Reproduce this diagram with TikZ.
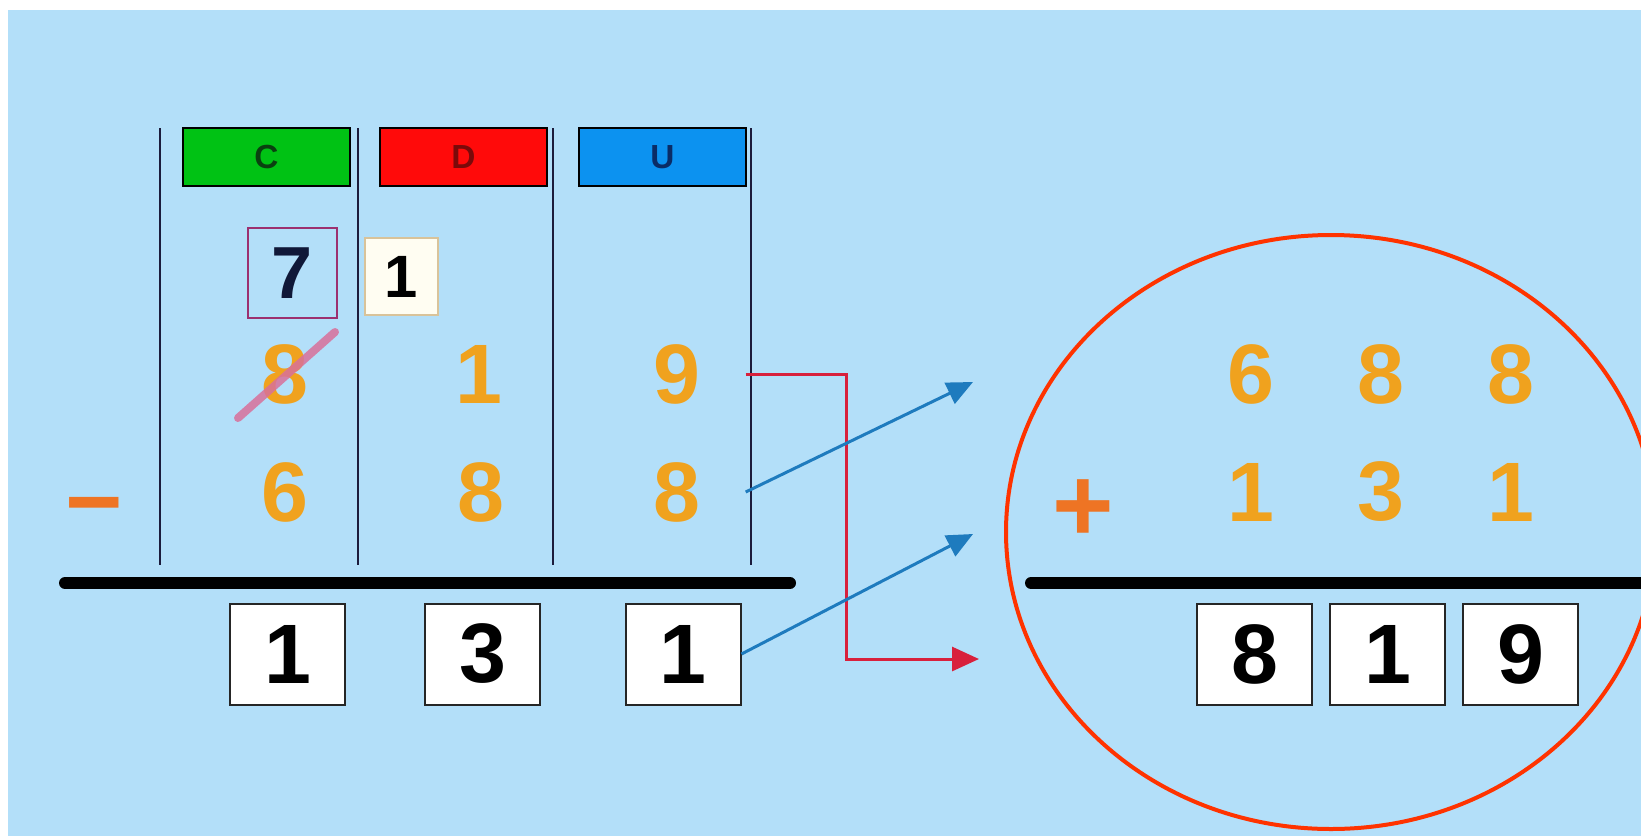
\documentclass[tikz,border=0pt]{standalone}
\usepackage{fontspec}
\setmainfont{Liberation Sans}
\usepackage{xcolor}
\usetikzlibrary{arrows.meta, positioning, calc}

\definecolor{bgblue}{HTML}{B3DFF9}
\definecolor{digitorange}{HTML}{F0A21E}
\definecolor{signorange}{HTML}{EE7424}
\definecolor{hdgreen}{HTML}{00C214}
\definecolor{hdgreentext}{HTML}{0A4010}
\definecolor{hdred}{HTML}{FF0A0A}
\definecolor{hdredtext}{HTML}{7A0A0A}
\definecolor{hdblue}{HTML}{0C92F0}
\definecolor{hdbluetext}{HTML}{0A2C66}
\definecolor{linenavy}{HTML}{1C1C3C}
\definecolor{borrowline}{HTML}{9C3070}
\definecolor{borrowtext}{HTML}{101838}
\definecolor{carryfill}{HTML}{FFFDF2}
\definecolor{carryline}{HTML}{D9C39A}
\definecolor{strikepink}{HTML}{D8709A}
\definecolor{connred}{HTML}{D8203C}
\definecolor{arrowblue}{HTML}{1E7BBE}
\definecolor{ringred}{HTML}{FF3300}

\begin{document}
\begin{tikzpicture}[
    x=0.1mm, y=-0.1mm,
    header/.style={rectangle, draw=black, line width=0.2mm, minimum width=16.7mm, minimum height=5.8mm, inner sep=0pt, font=\fontsize{9.5}{10}\selectfont\bfseries},
    digit/.style={inner sep=0pt, minimum width=13.6mm, text=digitorange, font=\fontsize{24}{24}\selectfont\bfseries},
    result/.style={rectangle, draw=black!85, line width=0.2mm, fill=white, minimum width=11.5mm, minimum height=10.1mm, inner sep=0pt, font=\fontsize{24}{24}\selectfont\bfseries},
    borrowbox/.style={rectangle, draw=borrowline, line width=0.2mm, minimum width=8.9mm, minimum height=9mm, inner sep=0pt, text=borrowtext, font=\fontsize{21}{21}\selectfont\bfseries},
    carrybox/.style={rectangle, draw=carryline, fill=carryfill, line width=0.2mm, minimum width=7.3mm, minimum height=7.7mm, inner sep=0pt, font=\fontsize{17}{17}\selectfont\bfseries},
    sign/.style={anchor=base, inner sep=0pt, text=signorange, font=\fontsize{30}{30}\selectfont\bfseries},
    colline/.style={draw=linenavy, line width=0.2mm},
    bar/.style={line width=1.2mm, line cap=round},
    strike/.style={draw=strikepink, line width=0.8mm, line cap=round, opacity=0.85},
    bluearrow/.style={-{Triangle[length=2.6mm, width=2.3mm]}, draw=arrowblue, line width=0.3mm},
    redarrow/.style={-{Triangle[length=2.7mm, width=2.4mm]}, draw=connred, line width=0.3mm}
]

\useasboundingbox (0,0) rectangle (1641,836);
\clip (0,0) rectangle (1641,836);
\fill[white] (0,0) rectangle (1641,836);
\fill[bgblue] (8,10) rectangle (1641,836);

% Columns
\draw[colline] (159.5,128) -- (159.5,565);
\draw[colline] (358,128) -- (358,565);
\draw[colline] (553,128) -- (553,565);
\draw[colline] (751,128) -- (751,565);

\node[header, fill=hdgreen, text=hdgreentext] (hc) at (266.5,157) {C};
\node[header, fill=hdred, text=hdredtext, right=2.8mm of hc] (hd) {D};
\node[header, fill=hdblue, text=hdbluetext, right=3mm of hd] (hu) {U};

\node[borrowbox] (seven) at (292.5,273) {7};
\node[carrybox] (carry) at (401.5,276.5) {1};

% Subtraction
\node[digit] (c1) at (285,374) {8};
\node[digit] (d1) at (479,374) {1};
\node[digit] (u1) at (677,374) {9};
\draw[strike] (238,418) -- (335,332);

\node[sign, font=\fontsize{28}{28}\selectfont\bfseries, line width=0.5mm] (minus) at (94,535) {−};
\node[digit] (c2) at (285,492) {6};
\node[digit] (d2) at (481,492) {8};
\node[digit] (u2) at (677,492) {8};

\draw[bar] (65,583) -- (790,583);

\node[result] (r1) at (287.5,654) {1};
\node[result] (r2) at (482.5,654) {3};
\node[result] (r3) at (683,654) {1};

% Check
\draw[draw=ringred, line width=0.4mm] (1331,532) ellipse [x radius=32.5mm, y radius=29.7mm];

\node[digit] (s1) at (1251,374) {6};
\node[digit] (s2) at (1381,374) {8};
\node[digit] (s3) at (1511,374) {8};

\node[sign] (plus) at (1083,541) {+};
\node[digit] (t1) at (1251,492) {1};
\node[digit] (t2) at (1381,492) {3};
\node[digit] (t3) at (1511,492) {1};

\draw[bar] (1031,583) -- (1700,583);

\node[result] (m1) at (1254.5,654) {8};
\node[result, right=1.6mm of m1] (m2) {1};
\node[result, right=1.6mm of m2] (m3) {9};

% Arrows
\coordinate (tipA) at (973,382);
\coordinate (tipB) at (973,534);
\coordinate (redtip) at (979,659);
\draw[redarrow] (u1.east) -- ++(101,0) |- (redtip);
\draw[bluearrow] (u2.east) -- (tipA);
\draw[bluearrow] (r3.east) -- (tipB);

\end{tikzpicture}
\end{document}
